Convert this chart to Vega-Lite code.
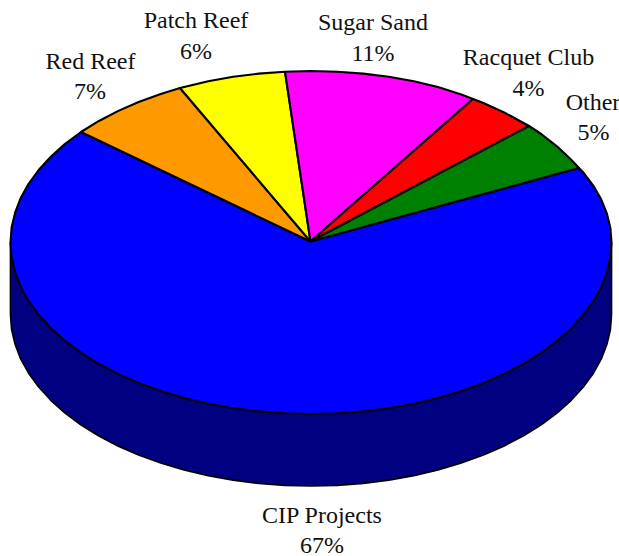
{
"$schema":"https://vega.github.io/schema/vega-lite/v6.json",
"width":619,"height":556,"padding":0,"autosize":{"type":"none"},
"background":"white",
"view":{"stroke":null},
"datasets":{
"side":[
{"i":1,"x":611.5,"y":242.5},{"i":2,"x":611.5,"y":300},{"i":3,"x":611.5,"y":314.5},{"i":4,"x":610.4,"y":329.5},{"i":5,"x":606.9,"y":344.3},{"i":6,"x":601.3,"y":358.9},{"i":7,"x":593.4,"y":373.2},{"i":8,"x":583.3,"y":387},{"i":9,"x":571.2,"y":400.3},{"i":10,"x":557.2,"y":412.9},{"i":11,"x":541.2,"y":424.7},{"i":12,"x":523.5,"y":435.8},{"i":13,"x":504.2,"y":445.9},{"i":14,"x":483.4,"y":455},{"i":15,"x":461.3,"y":463},{"i":16,"x":438,"y":469.9},{"i":17,"x":413.8,"y":475.7},{"i":18,"x":388.8,"y":480.2},{"i":19,"x":363.2,"y":483.4},{"i":20,"x":337.2,"y":485.3},{"i":21,"x":311,"y":486},{"i":22,"x":284.8,"y":485.3},{"i":23,"x":258.8,"y":483.4},{"i":24,"x":233.2,"y":480.2},{"i":25,"x":208.2,"y":475.7},{"i":26,"x":184,"y":469.9},{"i":27,"x":160.7,"y":463},{"i":28,"x":138.6,"y":455},{"i":29,"x":117.8,"y":445.9},{"i":30,"x":98.5,"y":435.8},{"i":31,"x":80.8,"y":424.7},{"i":32,"x":64.8,"y":412.9},{"i":33,"x":50.8,"y":400.3},{"i":34,"x":38.7,"y":387},{"i":35,"x":28.6,"y":373.2},{"i":36,"x":20.7,"y":358.9},{"i":37,"x":15.1,"y":344.3},{"i":38,"x":11.6,"y":329.5},{"i":39,"x":10.5,"y":314.5},{"i":40,"x":10.5,"y":300},{"i":41,"x":10.5,"y":242.5}
],
"slices":[
{"s":"CIP Projects","i":1,"x":310.5,"y":241.5},{"s":"CIP Projects","i":2,"x":579,"y":168},{"s":"CIP Projects","i":3,"x":583.3,"y":172.5},{"s":"CIP Projects","i":4,"x":593.4,"y":185.8},{"s":"CIP Projects","i":5,"x":601.3,"y":199.6},{"s":"CIP Projects","i":6,"x":606.9,"y":213.7},{"s":"CIP Projects","i":7,"x":610.4,"y":228},{"s":"CIP Projects","i":8,"x":611.5,"y":242.5},{"s":"CIP Projects","i":9,"x":610.4,"y":257.5},{"s":"CIP Projects","i":10,"x":606.9,"y":272.3},{"s":"CIP Projects","i":11,"x":601.3,"y":286.9},{"s":"CIP Projects","i":12,"x":593.4,"y":301.2},{"s":"CIP Projects","i":13,"x":583.3,"y":315},{"s":"CIP Projects","i":14,"x":571.2,"y":328.3},{"s":"CIP Projects","i":15,"x":557.2,"y":340.9},{"s":"CIP Projects","i":16,"x":541.2,"y":352.7},{"s":"CIP Projects","i":17,"x":523.5,"y":363.8},{"s":"CIP Projects","i":18,"x":504.2,"y":373.9},{"s":"CIP Projects","i":19,"x":483.4,"y":383},{"s":"CIP Projects","i":20,"x":461.3,"y":391},{"s":"CIP Projects","i":21,"x":438,"y":397.9},{"s":"CIP Projects","i":22,"x":413.8,"y":403.7},{"s":"CIP Projects","i":23,"x":388.8,"y":408.2},{"s":"CIP Projects","i":24,"x":363.2,"y":411.4},{"s":"CIP Projects","i":25,"x":337.2,"y":413.3},{"s":"CIP Projects","i":26,"x":311,"y":414},{"s":"CIP Projects","i":27,"x":284.8,"y":413.3},{"s":"CIP Projects","i":28,"x":258.8,"y":411.4},{"s":"CIP Projects","i":29,"x":233.2,"y":408.2},{"s":"CIP Projects","i":30,"x":208.2,"y":403.7},{"s":"CIP Projects","i":31,"x":184,"y":397.9},{"s":"CIP Projects","i":32,"x":160.7,"y":391},{"s":"CIP Projects","i":33,"x":138.6,"y":383},{"s":"CIP Projects","i":34,"x":117.8,"y":373.9},{"s":"CIP Projects","i":35,"x":98.5,"y":363.8},{"s":"CIP Projects","i":36,"x":80.8,"y":352.7},{"s":"CIP Projects","i":37,"x":64.8,"y":340.9},{"s":"CIP Projects","i":38,"x":50.8,"y":328.3},{"s":"CIP Projects","i":39,"x":38.7,"y":315},{"s":"CIP Projects","i":40,"x":28.6,"y":301.2},{"s":"CIP Projects","i":41,"x":20.7,"y":286.9},{"s":"CIP Projects","i":42,"x":15.1,"y":272.3},{"s":"CIP Projects","i":43,"x":11.6,"y":257.5},{"s":"CIP Projects","i":44,"x":10.5,"y":242.5},{"s":"CIP Projects","i":45,"x":11.6,"y":227.5},{"s":"CIP Projects","i":46,"x":15.1,"y":212.7},{"s":"CIP Projects","i":47,"x":20.7,"y":198.1},{"s":"CIP Projects","i":48,"x":28.6,"y":183.8},{"s":"CIP Projects","i":49,"x":38.7,"y":170},{"s":"CIP Projects","i":50,"x":50.8,"y":156.7},{"s":"CIP Projects","i":51,"x":64.8,"y":144.1},{"s":"CIP Projects","i":52,"x":81,"y":132},{"s":"CIP Projects","i":53,"x":310.5,"y":241.5},
{"s":"Red Reef","i":1,"x":310.5,"y":241.5},{"s":"Red Reef","i":2,"x":81,"y":132},{"s":"Red Reef","i":3,"x":98.5,"y":121.2},{"s":"Red Reef","i":4,"x":117.8,"y":111.1},{"s":"Red Reef","i":5,"x":138.6,"y":102},{"s":"Red Reef","i":6,"x":160.7,"y":94},{"s":"Red Reef","i":7,"x":180,"y":88},{"s":"Red Reef","i":8,"x":310.5,"y":241.5},
{"s":"Patch Reef","i":1,"x":310.5,"y":241.5},{"s":"Patch Reef","i":2,"x":180,"y":88},{"s":"Patch Reef","i":3,"x":208.2,"y":81.3},{"s":"Patch Reef","i":4,"x":233.2,"y":76.8},{"s":"Patch Reef","i":5,"x":258.8,"y":73.6},{"s":"Patch Reef","i":6,"x":285,"y":71.7},{"s":"Patch Reef","i":7,"x":310.5,"y":241.5},
{"s":"Sugar Sand","i":1,"x":310.5,"y":241.5},{"s":"Sugar Sand","i":2,"x":285,"y":71.7},{"s":"Sugar Sand","i":3,"x":311,"y":71},{"s":"Sugar Sand","i":4,"x":337.2,"y":71.7},{"s":"Sugar Sand","i":5,"x":363.2,"y":73.6},{"s":"Sugar Sand","i":6,"x":388.8,"y":76.8},{"s":"Sugar Sand","i":7,"x":413.8,"y":81.3},{"s":"Sugar Sand","i":8,"x":438,"y":87.1},{"s":"Sugar Sand","i":9,"x":461.3,"y":94.5},{"s":"Sugar Sand","i":10,"x":473,"y":99},{"s":"Sugar Sand","i":11,"x":310.5,"y":241.5},
{"s":"Racquet Club","i":1,"x":310.5,"y":241.5},{"s":"Racquet Club","i":2,"x":473,"y":99},{"s":"Racquet Club","i":3,"x":483.4,"y":103},{"s":"Racquet Club","i":4,"x":504.2,"y":112.5},{"s":"Racquet Club","i":5,"x":529,"y":126},{"s":"Racquet Club","i":6,"x":310.5,"y":241.5},
{"s":"Other","i":1,"x":310.5,"y":241.5},{"s":"Other","i":2,"x":529,"y":126},{"s":"Other","i":3,"x":541.2,"y":134},{"s":"Other","i":4,"x":557.2,"y":146.6},{"s":"Other","i":5,"x":571.2,"y":159.7},{"s":"Other","i":6,"x":579,"y":168},{"s":"Other","i":7,"x":310.5,"y":241.5}
],
"labels":[
{"t":"Red Reef","x":90.5,"y":68.5},{"t":"7%","x":90,"y":98.5},
{"t":"Patch Reef","x":196,"y":27.5},{"t":"6%","x":196,"y":58.5},
{"t":"Sugar Sand","x":373,"y":29.5},{"t":"11%","x":373,"y":60.5},
{"t":"Racquet Club","x":528.5,"y":64.5},{"t":"4%","x":528.5,"y":95.5},
{"t":"Other","x":593,"y":109.5},{"t":"5%","x":593.5,"y":139.5},
{"t":"CIP Projects","x":322,"y":522.5},{"t":"67%","x":322,"y":553}
]
},
"layer":[
{"data":{"name":"side"},
"mark":{"type":"line","fill":"#000080","stroke":"black","strokeWidth":1.7,"strokeJoin":"round"},
"encoding":{
"x":{"field":"x","type":"quantitative","scale":{"domain":[0,619],"nice":false,"zero":false},"axis":null},
"y":{"field":"y","type":"quantitative","scale":{"domain":[556,0],"nice":false,"zero":false},"axis":null},
"order":{"field":"i","type":"quantitative"}}},
{"data":{"name":"slices"},
"mark":{"type":"line","stroke":"black","strokeWidth":2.1,"strokeJoin":"round"},
"encoding":{
"x":{"field":"x","type":"quantitative","scale":{"domain":[0,619],"nice":false,"zero":false},"axis":null},
"y":{"field":"y","type":"quantitative","scale":{"domain":[556,0],"nice":false,"zero":false},"axis":null},
"order":{"field":"i","type":"quantitative"},
"fill":{"field":"s","type":"nominal","legend":null,"scale":{"domain":["CIP Projects","Red Reef","Patch Reef","Sugar Sand","Racquet Club","Other"],"range":["#0000FF","#FF9900","#FFFF00","#FF00FF","#FF0000","#008000"]}}}},
{"data":{"name":"labels"},
"mark":{"type":"text","font":"Liberation Serif","fontSize":24,"align":"center","baseline":"alphabetic","color":"#111111"},
"encoding":{
"x":{"field":"x","type":"quantitative","scale":{"domain":[0,619],"nice":false,"zero":false},"axis":null},
"y":{"field":"y","type":"quantitative","scale":{"domain":[556,0],"nice":false,"zero":false},"axis":null},
"text":{"field":"t","type":"nominal"}}}
]
}
